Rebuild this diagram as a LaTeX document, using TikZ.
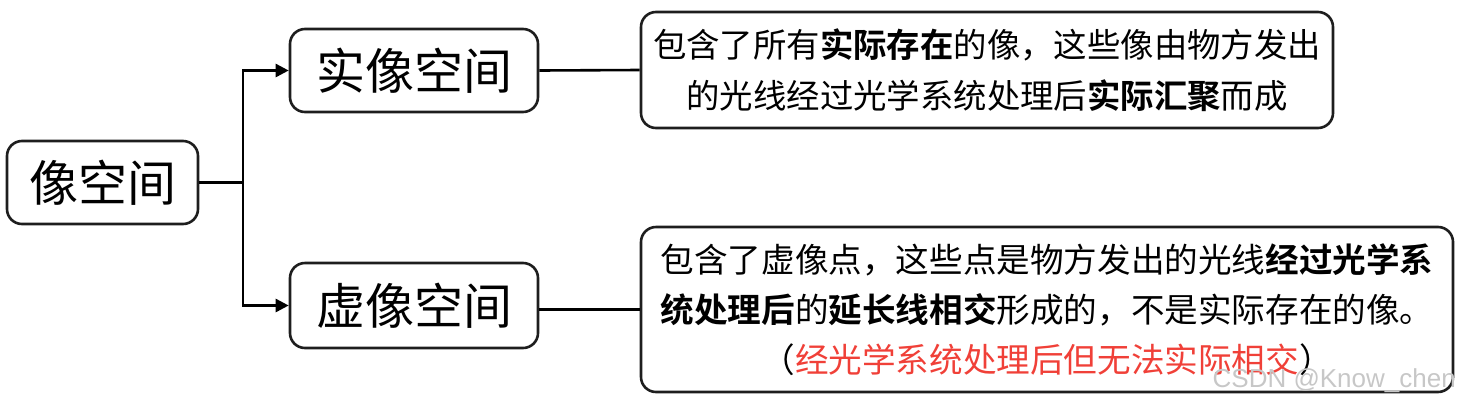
\documentclass[tikz,border=0pt]{standalone}
\usepackage{fontspec}
\newfontfamily\cjk{Noto Sans CJK SC}[BoldFont={Noto Sans CJK SC Bold}]
\newfontfamily\wm{Liberation Sans}
\usetikzlibrary{arrows.meta}
\definecolor{redtxt}{RGB}{240,64,56}
\definecolor{boxline}{RGB}{30,30,30}
\tikzset{
  mbox/.style={draw=boxline, line width=2.6pt, rounded corners=15pt, inner sep=0pt, align=center, font=\cjk\fontsize{49}{56}\selectfont},
  dbox/.style={draw=boxline, line width=2.6pt, rounded corners=15pt, inner sep=0pt, align=center},
  conn/.style={line width=2.6pt, draw=black},
  arr/.style={conn, -{Triangle[length=13pt,width=13pt]}}
}
\begin{document}
\begin{tikzpicture}[x=1pt,y=-1pt]
\useasboundingbox (0,0) rectangle (1461,405);
\node[mbox, minimum width=191pt, minimum height=83pt] (root) at (102.5,182.5) {像空间};
\node[mbox, minimum width=248pt, minimum height=83pt] (real) at (414,70.5) {实像空间};
\node[mbox, minimum width=248pt, minimum height=85pt] (virt) at (414,305.5) {虚像空间};
\node[dbox, minimum width=692pt, minimum height=116pt, font=\cjk\fontsize{33.4}{51}\selectfont] (tdesc) at (987,70)
  {包含了所有\textbf{实际存在}的像，这些像由物方发出\\的光线经过光学系统处理后\textbf{实际汇聚}而成};
\node[dbox, minimum width=812pt, minimum height=165pt, font=\cjk\fontsize{33.6}{50}\selectfont] (bdesc) at (1047,309.5)
  {包含了虚像点，这些点是物方发出的光线\textbf{经过光学系}\\\textbf{统处理后}的\textbf{延长线相交}形成的，不是实际存在的像。\\（\textcolor{redtxt}{经光学系统处理后但无法实际相交}）};
\coordinate (split) at (243,182.5);
\draw[conn] (root.east) -- (split);
\draw[arr] (split) |- (real.west);
\draw[arr] (split) |- (virt.west);
\draw[conn] (real.east) -- (tdesc.west);
\draw[conn] (virt.east |- bdesc.west) -- (bdesc.west);
\node[anchor=east, text=black!22, font=\wm\fontsize{26}{30}\selectfont, inner sep=0pt] (mark) at (1456,381) {CSDN @Know\_chen};
\end{tikzpicture}
\end{document}
